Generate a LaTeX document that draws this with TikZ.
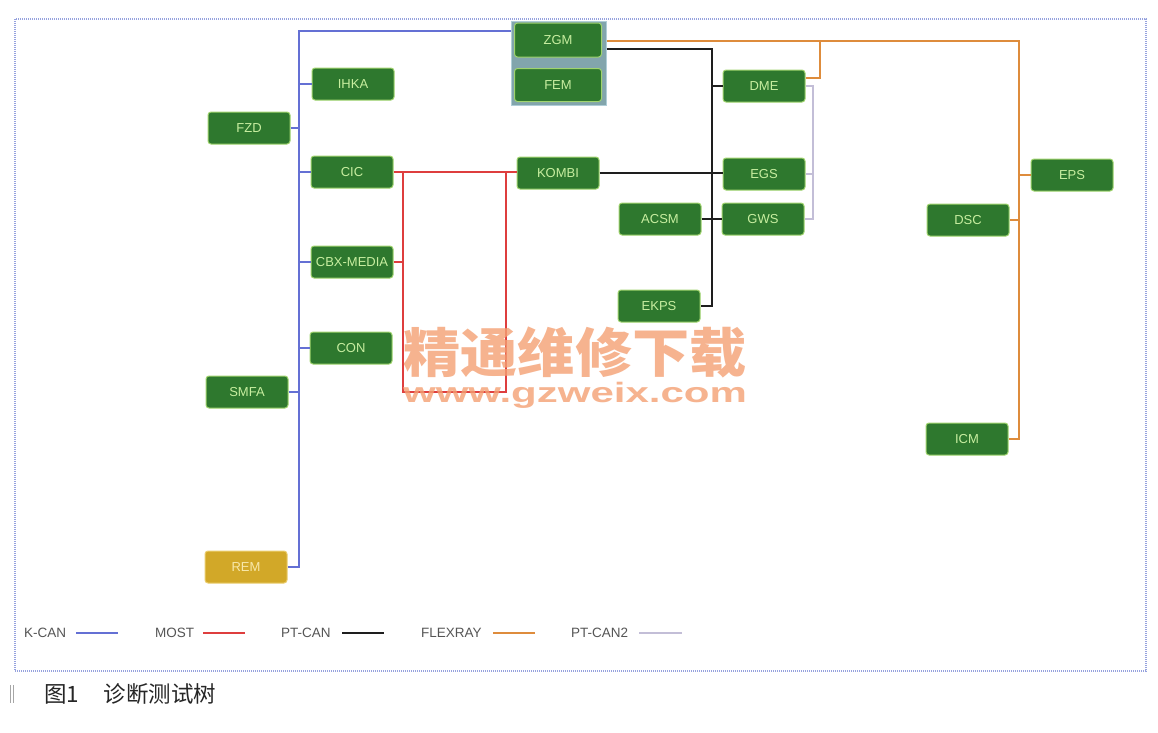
\documentclass[tikz,border=0pt]{standalone}
\usepackage{fontspec}
\setmainfont{Liberation Sans}
\newfontfamily\cjk{Noto Sans CJK SC}
\usetikzlibrary{calc}
\definecolor{ecufill}{RGB}{46,120,46}
\definecolor{ecuedge}{RGB}{160,212,110}
\definecolor{ecutext}{RGB}{200,238,160}
\definecolor{remfill}{RGB}{210,168,40}
\definecolor{remedge}{RGB}{235,205,110}
\definecolor{remtext}{RGB}{248,232,170}
\definecolor{boxfill}{RGB}{130,165,172}
\definecolor{boxedge}{RGB}{175,205,215}
\definecolor{kcancol}{RGB}{100,112,212}
\definecolor{mostcol}{RGB}{222,62,62}
\definecolor{ptcancol}{RGB}{30,30,30}
\definecolor{flexcol}{RGB}{222,140,60}
\definecolor{ptcantwo}{RGB}{195,190,215}
\definecolor{framecol}{RGB}{150,162,222}
\definecolor{wmark}{RGB}{244,160,115}
\definecolor{legtext}{RGB}{85,85,85}
\begin{document}
\begin{tikzpicture}[x=1pt,y=-1pt,
  ecu/.style={draw=ecuedge, line width=1pt, fill=ecufill, rounded corners=3pt,
    minimum width=82pt, minimum height=32pt, inner sep=0pt, text=ecutext,
    font=\fontsize{13}{13}\selectfont},
  remecu/.style={ecu, fill=remfill, draw=remedge, text=remtext},
  kcan/.style={draw=kcancol, line width=2pt},
  most/.style={draw=mostcol, line width=2.2pt},
  ptcan/.style={draw=ptcancol, line width=2.6pt},
  flex/.style={draw=flexcol, line width=2pt},
  ptcanb/.style={draw=ptcantwo, line width=1.2pt},
  legend/.style={anchor=west, inner sep=0pt, text=legtext, font=\fontsize{13.5}{13.5}\selectfont},
]
\useasboundingbox (0,0) rectangle (1158,732);
\fill[white] (0,0) rectangle (1158,732);
% frame
\draw[framecol, line width=1.3pt, dash pattern=on 1pt off 1pt] (15,19) rectangle (1146,671);

% ZGM / FEM group box
\node[draw=boxedge, fill=boxfill, line width=1pt, minimum width=95pt, minimum height=84pt, inner sep=0pt] (zgmbox) at (558.5,63) {};

% nodes
\node[ecu, minimum width=87pt, minimum height=34pt] (zgm) at (558,40) {ZGM};
\node[ecu, minimum width=87pt, minimum height=33pt] (fem) at (558,85) {FEM};
\node[ecu] (fzd)  at (249,128) {FZD};
\node[ecu] (ihka) at (353,84) {IHKA};
\node[ecu] (cic)  at (352,172) {CIC};
\node[ecu] (cbx)  at (352,262) {CBX-MEDIA};
\node[ecu] (con)  at (351,348) {CON};
\node[ecu] (smfa) at (247,392) {SMFA};
\node[remecu] (rem) at (246,567) {REM};
\node[ecu] (kombi) at (558,173) {KOMBI};
\node[ecu] (dme)  at (764,86) {DME};
\node[ecu] (egs)  at (764,174) {EGS};
\node[ecu] (gws)  at (763,219) {GWS};
\node[ecu] (acsm) at (660,219) {ACSM};
\node[ecu] (ekps) at (659,306) {EKPS};
\node[ecu] (dsc)  at (968,220) {DSC};
\node[ecu] (eps)  at (1072,175) {EPS};
\node[ecu] (icm)  at (967,439) {ICM};

% bus coordinates
\coordinate (kx) at (299,0);
\coordinate (ktop) at (zgmbox.west |- 0,31);
\coordinate (m1) at (403,0);
\coordinate (m2) at (506,0);
\coordinate (mb) at (0,392);
\coordinate (px) at (712,0);
\coordinate (pstart) at (zgmbox.east |- 0,49);
\coordinate (fx) at (1019,0);
\coordinate (fstart) at (zgmbox.east |- 0,41);
\coordinate (dfx) at (820,0);
\coordinate (p2x) at (813,0);

% K-CAN
\draw[kcan] (rem.east) -| (kx |- ktop) -- (ktop);
\draw[kcan] (fzd.east) -- (fzd.east -| kx);
\draw[kcan] (ihka.west) -- (ihka.west -| kx);
\draw[kcan] (cic.west) -- (cic.west -| kx);
\draw[kcan] (cbx.west) -- (cbx.west -| kx);
\draw[kcan] (con.west) -- (con.west -| kx);
\draw[kcan] (smfa.east) -- (smfa.east -| kx);
% MOST
\draw[most] (cic.east) -- (cic.east -| kombi.west);
\draw[most] (cic.east -| m1) -- (m1 |- mb) -- (m2 |- mb) -- (cic.east -| m2);
\draw[most] (cbx.east) -- (cbx.east -| m1);
% PT-CAN
\draw[ptcan] (pstart) -| (px |- ekps.east) -- (ekps.east);
\draw[ptcan] (dme.west) -- (dme.west -| px);
\draw[ptcan] (kombi.east) -- (kombi.east -| egs.west);
\draw[ptcan] (acsm.east) -- (gws.west);
% FLEXRAY
\draw[flex] (fstart) -| (fx |- icm.east) -- (icm.east);
\draw[flex] (eps.west) -- (eps.west -| fx);
\draw[flex] (dsc.east) -- (dsc.east -| fx);
\draw[flex] ($(dme.east)+(0,-8)$) -| (dfx |- fstart);
% PT-CAN2
\draw[ptcanb] (dme.east) -| (p2x |- gws.east) -- (gws.east);
\draw[ptcanb] (egs.east) -- (egs.east -| p2x);

% legend
\node[legend] (lk) at (24,633) {K-CAN};
\coordinate (lks) at (76,633);
\coordinate (lke) at (118,633);
\draw[kcan] (lks) -- (lke);
\node[legend] (lm) at (155,633) {MOST};
\coordinate (lms) at (203,633);
\coordinate (lme) at (245,633);
\draw[most] (lms) -- (lme);
\node[legend] (lp) at (281,633) {PT-CAN};
\coordinate (lps) at (342,633);
\coordinate (lpe) at (384,633);
\draw[ptcan] (lps) -- (lpe);
\node[legend] (lf) at (421,633) {FLEXRAY};
\coordinate (lfs) at (493,633);
\coordinate (lfe) at (535,633);
\draw[flex] (lfs) -- (lfe);
\node[legend] (lp2) at (571,633) {PT-CAN2};
\coordinate (lp2s) at (639,633);
\coordinate (lp2e) at (682,633);
\draw[ptcanb] (lp2s) -- (lp2e);

% watermark
\node[text=wmark, opacity=0.8, inner sep=0pt, xscale=1.08, font=\cjk\bfseries\fontsize{53}{53}\selectfont] (wm1) at (575,352) {精通维修下载};
\node[text=wmark, opacity=0.8, inner sep=0pt, xscale=1.5, font=\bfseries\fontsize{28}{28}\selectfont] (wm2) at (575,395) {www.gzweix.com};

% caption
\draw[gray!70, line width=0.8pt] (10,685) -- (10,703);
\draw[gray!70, line width=0.8pt] (13,685) -- (13,703);
\node[anchor=west, inner sep=0pt, text=black!85, font=\cjk\fontsize{22.5}{22.5}\selectfont] (cap) at (44,694) {图1\hspace{1.1em}诊断测试树};
\end{tikzpicture}
\end{document}
